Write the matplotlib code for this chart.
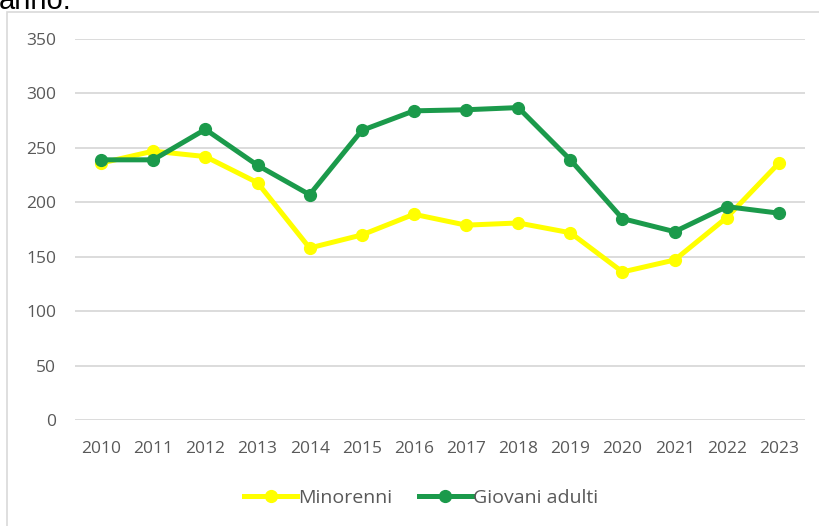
import matplotlib
matplotlib.use("Agg")
import matplotlib.pyplot as plt
from matplotlib.patches import Rectangle
from matplotlib.lines import Line2D

years = ["2010", "2011", "2012", "2013", "2014", "2015", "2016",
         "2017", "2018", "2019", "2020", "2021", "2022", "2023"]
minorenni = [236, 247, 242, 218, 158, 170, 189, 179, 181, 172, 136, 147, 186, 236]
giovani_adulti = [239, 239, 267, 234, 207, 266, 284, 285, 287, 239, 185, 173, 196, 190]
yticks = [0, 50, 100, 150, 200, 250, 300, 350]
series_names = ["Minorenni", "Giovani adulti"]

W, H = 819, 526
fig = plt.figure(figsize=(W / 100, H / 100), dpi=100)
fig.patch.set_facecolor("white")

# outer chart frame
fig.patches.append(Rectangle((7 / W, -0.05), 1.2, 1 - 12 / H + 0.05,
                             transform=fig.transFigure, fill=False,
                             edgecolor="#D9D9D9", linewidth=1.2))

# clipped caption text at top (cut off in the reference as well)
fig.text(-0.002, 1 - 9 / H, "anno.", fontsize=21, family="Liberation Sans",
         color="black", va="baseline", ha="left")

ax = fig.add_axes([75 / W, (H - 420) / H, (805 - 75) / W, (420 - 39) / H])
x = list(range(len(years)))
yellow = "#FFFF00"
green = "#1B9A4B"
ax.plot(x, minorenni, color=yellow, lw=3.6, marker="o", markersize=8.5,
        solid_capstyle="round", solid_joinstyle="round", zorder=3)
ax.plot(x, giovani_adulti, color=green, lw=3.6, marker="o", markersize=8.5,
        solid_capstyle="round", solid_joinstyle="round", zorder=4)

ax.set_xlim(-0.5, len(years) - 0.5)
ax.set_ylim(0, 350)
ax.set_yticks(yticks)
ax.set_yticklabels([str(v) for v in yticks])
ax.set_xticks(x)
ax.set_xticklabels(years)
ax.grid(axis="y", color="#D9D9D9", linewidth=1.3)
ax.set_axisbelow(True)
for s in ax.spines.values():
    s.set_visible(False)
ax.tick_params(axis="both", length=0, labelsize=12.5, labelcolor="#595959")
ax.tick_params(axis="y", pad=13.5)
ax.tick_params(axis="x", pad=15)
for lab in ax.get_xticklabels() + ax.get_yticklabels():
    lab.set_family("Open Sans")

handles = [Line2D([0], [0], color=yellow, lw=3.6, marker="o", markersize=8.5),
           Line2D([0], [0], color=green, lw=3.6, marker="o", markersize=8.5)]
leg = fig.legend(handles, series_names, loc="center", bbox_to_anchor=(421 / W, 1 - 498 / H),
                 ncol=2, frameon=False, handlelength=2.7, handletextpad=0.05,
                 columnspacing=1.4, prop={"family": "Open Sans", "size": 14})
for t in leg.get_texts():
    t.set_color("#595959")

fig.savefig("out.png", dpi=100)
